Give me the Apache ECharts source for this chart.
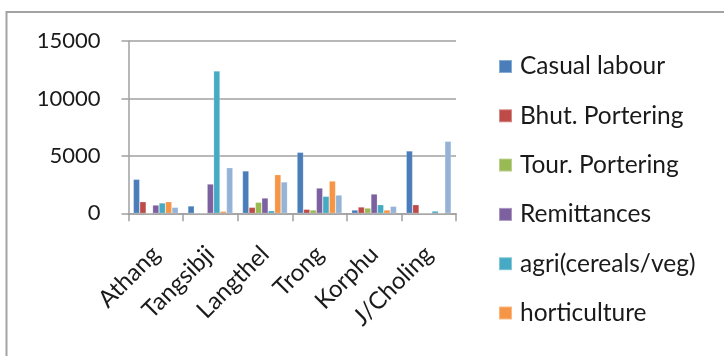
<!DOCTYPE html>
<html>
<head>
<meta charset="utf-8">
<script src="https://cdn.jsdelivr.net/npm/echarts@6/dist/echarts.min.js"></script>
<style>
  html, body { margin: 0; padding: 0; background: #fff; }
  #chart { width: 724px; height: 356px; }
</style>
</head>
<body>
<div id="chart"></div>
<script>
// Income sources by gewog
const categories = ['Athang', 'Tangsibji', 'Langthel', 'Trong', 'Korphu', 'J/Choling'];
const seriesNames = ['Casual labour', 'Bhut. Portering', 'Tour. Portering', 'Remittances',
                     'agri(cereals/veg)', 'horticulture', 'others'];
const casualLabour   = [2960, 640, 3690, 5310, 290, 5430];
const bhutPortering  = [1010, 0, 520, 350, 550, 750];
const tourPortering  = [0, 0, 960, 290, 460, 0];
const remittances    = [720, 2550, 1330, 2200, 1680, 0];
const agri           = [900, 12400, 230, 1480, 750, 200];
const horticulture   = [1010, 175, 3360, 2810, 290, 0];
const others         = [520, 3970, 2730, 1590, 610, 6270];
const yTicks = [0, 5000, 10000, 15000];

const seriesValues = [casualLabour, bhutPortering, tourPortering, remittances,
                      agri, horticulture, others];
const colors = ['#4a7ebb', '#be4b48', '#98b954', '#7d60a0', '#46aac5', '#f69546', '#95b3d7'];

const FONT = 'Lato, "Liberation Sans", sans-serif';
const chart = echarts.init(document.getElementById('chart'), null, { renderer: 'canvas' });

chart.setOption({
  animation: false,
  color: colors,
  textStyle: { fontFamily: FONT, color: '#1a1a1a' },
  graphic: [{
    type: 'rect',
    shape: { x: 6.5, y: 12, width: 900, height: 500 },
    style: { fill: 'none', stroke: '#a3a3a3', lineWidth: 2 },
    silent: true, z: -1
  }],
  grid: { left: 128.5, top: 41, width: 327.5, height: 172.3, containLabel: false },
  legend: {
    orient: 'vertical',
    left: 498, top: 54,
    padding: 0,
    data: seriesNames.slice(0, 6),
    icon: 'rect',
    itemWidth: 13, itemHeight: 13,
    itemGap: 24.3,
    textStyle: { fontFamily: FONT, fontSize: 24.5, color: '#1a1a1a', lineHeight: 24, padding: [0, 0, 0, 3] }
  },
  xAxis: {
    type: 'category',
    data: categories,
    axisLine: { lineStyle: { color: '#a0a0a0', width: 1.5 } },
    axisTick: { show: true, length: 8, inside: false, lineStyle: { color: '#a0a0a0', width: 1.5 } },
    axisLabel: { rotate: 45, fontSize: 24, color: '#1a1a1a', margin: 37, fontFamily: FONT, interval: 0 }
  },
  yAxis: {
    type: 'value',
    min: 0, max: yTicks[yTicks.length - 1], interval: yTicks[1] - yTicks[0],
    axisLine: { show: true, lineStyle: { color: '#a0a0a0', width: 1.5 } },
    axisTick: { show: true, length: 7, lineStyle: { color: '#a0a0a0', width: 1.5 } },
    splitLine: { lineStyle: { color: '#a0a0a0', width: 1.5 } },
    axisLabel: { fontSize: 22, color: '#1a1a1a', margin: 28, fontFamily: FONT,
                 formatter: v => String(v) }
  },
  series: seriesNames.map((name, i) => ({
    name: name,
    type: 'bar',
    data: seriesValues[i],
    barGap: '0%',
    barCategoryGap: '17.6%',
    itemStyle: { color: colors[i], borderColor: 'rgba(255,255,255,0.35)', borderWidth: 0.6 }
  }))
});
</script>
</body>
</html>
